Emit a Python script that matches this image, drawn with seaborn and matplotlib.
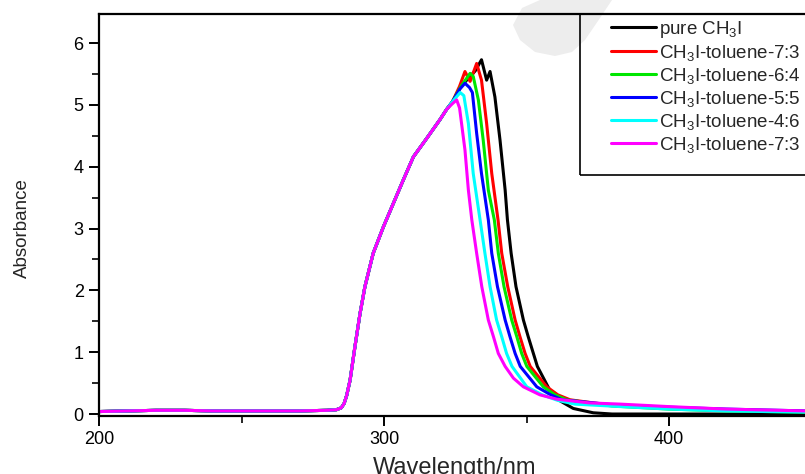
import numpy as np
import pandas as pd
import matplotlib
matplotlib.use("Agg")
import matplotlib.pyplot as plt
from matplotlib.patches import Polygon, Rectangle
import seaborn as sns

# shared baseline + rising edge (all samples overlap here)
rise_nm = [200, 210, 220, 230, 240, 250, 260, 270, 280, 283.3, 285.0, 286.0,
           286.9, 288.1, 289.8, 291.6, 293.3, 296.2, 299.8, 303.3, 306.8, 310.3,
           315.0, 319.6, 322.0]
rise_abs = [0.04, 0.05, 0.06, 0.06, 0.05, 0.05, 0.05, 0.05, 0.06, 0.07, 0.10, 0.17,
            0.30, 0.55, 1.09, 1.63, 2.06, 2.60, 3.03, 3.41, 3.79, 4.16,
            4.46, 4.76, 4.93]

# peak + falling edge + tail of each sample
pure_nm = [324, 327, 330, 332, 334.2, 336.0, 337.2, 338.9, 340.7, 342.5, 343.3,
           344.6, 346.3, 348.9, 350.6, 352.4, 353.8, 358.0, 361.5, 366.4, 373.4,
           380, 420, 448]
pure_abs = [5.05, 5.30, 5.45, 5.55, 5.73, 5.40, 5.54, 5.13, 4.43, 3.62, 3.14,
            2.60, 2.06, 1.52, 1.25, 0.98, 0.77, 0.40, 0.22, 0.09, 0.02,
            0.0, 0.0, 0.0]

t73_nm = [324, 326.5, 328.4, 330.2, 332.5, 334.2, 336.0, 337.8, 340.0, 341.3,
          343.4, 346.0, 347.7, 349.5, 351.3, 357.1, 361.0, 365.3, 380, 400,
          420, 448]
t73_abs = [5.05, 5.30, 5.54, 5.38, 5.67, 5.40, 4.70, 3.89, 3.14, 2.60,
           2.06, 1.52, 1.25, 0.98, 0.77, 0.44, 0.31, 0.23, 0.14, 0.09,
           0.06, 0.04]

t64_nm = [324, 327, 330.2, 331.3, 333.1, 334.8, 336.6, 338.7, 340.1, 342.1,
          344.8, 346.6, 348.3, 350.1, 355.9, 360.0, 364.1, 380, 400, 420, 448]
t64_abs = [5.05, 5.30, 5.51, 5.46, 5.08, 4.43, 3.62, 3.14, 2.60, 2.06,
           1.52, 1.25, 0.98, 0.77, 0.44, 0.31, 0.23, 0.13, 0.08, 0.05, 0.03]

t55_nm = [324, 326.5, 328.4, 330, 331, 332.5, 334.2, 336.6, 337.8, 339.8,
          342.5, 344.2, 346.0, 347.8, 353.6, 358.5, 362.5, 380, 400, 420, 448]
t55_abs = [5.05, 5.25, 5.35, 5.28, 5.20, 4.54, 3.89, 3.14, 2.60, 2.06,
           1.52, 1.25, 0.98, 0.77, 0.44, 0.31, 0.23, 0.15, 0.11, 0.08, 0.05]

t46_nm = [324, 326.7, 328, 329.6, 331.3, 333.7, 335.4, 337.2, 339.5, 341.3,
          343.0, 344.9, 350.1, 355.5, 361.0, 367.0, 383, 400, 420, 448]
t46_abs = [5.05, 5.20, 5.15, 4.70, 3.89, 3.14, 2.60, 2.06, 1.52, 1.25,
           0.98, 0.77, 0.44, 0.31, 0.22, 0.16, 0.12, 0.08, 0.05, 0.03]

t37_nm = [324, 325.5, 326.5, 327.2, 328.4, 329.6, 330.8, 332.5, 334.3, 336.6,
          338.4, 340.1, 342.5, 345.4, 348.9, 354.7, 360.6, 372, 383, 400, 420, 448]
t37_abs = [5.02, 5.08, 4.95, 4.70, 4.27, 3.62, 3.14, 2.60, 2.06, 1.52,
           1.25, 0.98, 0.77, 0.58, 0.44, 0.31, 0.24, 0.18, 0.16, 0.12, 0.08, 0.05]

labels = ["pure CH$_3$I", "CH$_3$I-toluene-7:3", "CH$_3$I-toluene-6:4",
          "CH$_3$I-toluene-5:5", "CH$_3$I-toluene-4:6", "CH$_3$I-toluene-7:3"]
colors = ["#000000", "#ff0000", "#00e600", "#0000ff", "#00ffff", "#ff00ff"]
tails = [(pure_nm, pure_abs), (t73_nm, t73_abs), (t64_nm, t64_abs),
         (t55_nm, t55_abs), (t46_nm, t46_abs), (t37_nm, t37_abs)]

sns.set_style("ticks")
plt.rcParams["font.family"] = ["Liberation Sans", "DejaVu Sans"]
plt.rcParams["mathtext.fontset"] = "custom"
plt.rcParams["mathtext.rm"] = "Liberation Sans"
plt.rcParams["mathtext.it"] = "Liberation Sans:italic"

W, H = 805, 474
fig = plt.figure(figsize=(8.05, 4.74), dpi=100)
ax = fig.add_axes([99 / W, (H - 416) / H, (W - 99) / W, (416 - 14) / H])

for lab, col, (nm, ab) in zip(labels, colors, tails):
    df = pd.DataFrame({"nm": rise_nm + nm, "abs": rise_abs + ab})
    sns.lineplot(data=df, x="nm", y="abs", color=col, lw=2.2, label=lab,
                 ax=ax, legend=False)

ax.set_xlim(200, 447.7)
ax.set_ylim(-0.032, 6.47)
ax.set_xticks([200, 300, 400])
ax.set_xticks([250, 350], minor=True)
ax.set_yticks(range(0, 7))
ax.set_yticks(np.arange(0.5, 6.5, 1.0), minor=True)
ax.tick_params(which="major", direction="out", length=7, width=1.4,
               labelsize=13, pad=4, colors="black")
ax.tick_params(which="minor", direction="out", length=5, width=1.4)
for s in ["left", "top", "bottom"]:
    ax.spines[s].set_visible(True)
    ax.spines[s].set_linewidth(1.6)
    ax.spines[s].set_color("black")
ax.spines["right"].set_visible(False)

ax.set_xlabel("Wavelength/nm", fontsize=17)
ax.xaxis.set_label_coords((455 - 99) / (W - 99), -(457 - 416) / (416 - 14))
ax.set_ylabel("Absorbance", fontsize=13.5)
ax.yaxis.set_label_coords(-(99 - 31) / (W - 99), (416 - 228) / (416 - 14))

# watermark
wm = [(540, 0), (612, 0), (600, 18), (585, 40), (572, 52), (555, 56),
      (535, 52), (520, 40), (513, 25), (522, 8)]
ax.add_patch(Polygon([(x / W, 1 - y / H) for x, y in wm], closed=True,
                     transform=fig.transFigure, facecolor="#ededed",
                     edgecolor="none", zorder=0.5, clip_on=False))

# legend box
ax.add_patch(Rectangle((580 / W, 1 - 175 / H), (815 - 580) / W, (175 - 14) / H,
                       transform=fig.transFigure, fill=False, edgecolor="black",
                       lw=1.2, zorder=3, clip_on=False))
handles, labs = ax.get_legend_handles_labels()
fig.legend(handles, labs, loc="upper left", bbox_to_anchor=(611 / W, 1 - 19 / H),
           frameon=False, fontsize=13.5, borderpad=0, borderaxespad=0,
           handlelength=2.4, handletextpad=0.15, labelspacing=0.16)

fig.savefig("out.png", dpi=100)
